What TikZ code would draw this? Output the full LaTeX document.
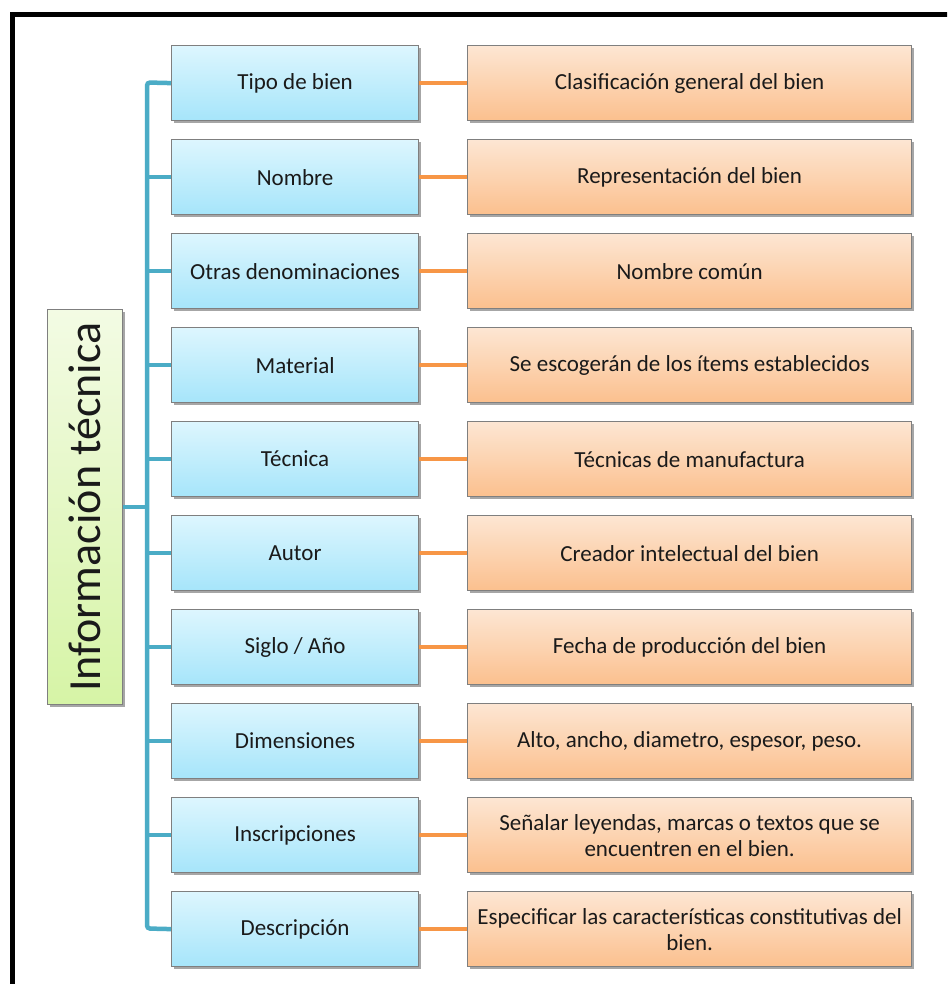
\documentclass[tikz,border=0pt]{standalone}
\usepackage{fontspec}
\setmainfont{Carlito}
\usetikzlibrary{shadows}
\definecolor{bluetop}{HTML}{DDF6FE}
\definecolor{bluebot}{HTML}{A6E5FA}
\definecolor{orgtop}{HTML}{FDE6D3}
\definecolor{orgbot}{HTML}{FBC08E}
\definecolor{grntop}{HTML}{F3FBE4}
\definecolor{grnbot}{HTML}{D6F4A6}
\definecolor{boxline}{HTML}{7F7F7F}
\definecolor{teal}{HTML}{4BACC6}
\definecolor{orangeline}{HTML}{F79646}
\definecolor{txt}{HTML}{1A1A1A}
\tikzset{
  basebox/.style={draw=boxline, line width=1.2pt, anchor=north west, inner sep=2pt,
    align=center, text=txt, font=\fontsize{23}{26}\selectfont,
    drop shadow={shadow xshift=2pt, shadow yshift=-2.5pt, opacity=0.35, fill=black}},
  bluebox/.style={basebox, top color=bluetop, bottom color=bluebot,
    minimum width=247pt, minimum height=75pt},
  orgbox/.style={basebox, top color=orgtop, bottom color=orgbot,
    minimum width=444pt, minimum height=75pt},
  grnbox/.style={basebox, top color=grntop, bottom color=grnbot,
    minimum width=75pt, minimum height=395pt},
  tealline/.style={draw=teal, line width=4.5pt},
  orgline/.style={draw=orangeline, line width=4pt},
}
\begin{document}
\begin{tikzpicture}[x=1pt, y=-1pt]
\useasboundingbox (0,0) rectangle (947,984);
\clip (0,0) rectangle (947,984);
\fill[white] (0,0) rectangle (947,984);
\draw[line width=5pt] (12,14.5) rectangle (980,1010);

% green root
\node[grnbox] (root) at (47,309) {};
\node[rotate=90, font=\fontsize{46}{50}\selectfont, text=txt] (roottext) at (root.center) {Información técnica};

% rows
\foreach \i/\a/\b in {
  0/{Tipo de bien}/{Clasificación general del bien},
  1/{Nombre}/{Representación del bien},
  2/{Otras denominaciones}/{Nombre común},
  3/{Material}/{Se escogerán de los ítems establecidos},
  4/{Técnica}/{Técnicas de manufactura},
  5/{Autor}/{Creador intelectual del bien},
  6/{Siglo / Año}/{Fecha de producción del bien},
  7/{Dimensiones}/{Alto, ancho, diametro, espesor, peso.},
  8/{Inscripciones}/{Señalar leyendas, marcas o textos que se\\ encuentren en el bien.},
  9/{Descripción}/{Especificar las características constitutivas del\\ bien.}}
{
  \node[bluebox] (b\i) at (171,45+94*\i) {\a};
  \node[orgbox] (o\i) at (467,45+94*\i) {\b};
}

% connectors
\coordinate (trunktop) at (147,82.5);
\coordinate (trunkbot) at (147,928.5);
\coordinate (trunkmid) at (147,507);
\begin{scope}[on background layer/.try]
\end{scope}
\draw[tealline, rounded corners=3pt] (b0.west) -- (trunktop) -- (trunkbot) -- (b9.west);
\foreach \i in {1,...,8} {
  \draw[tealline] (trunktop |- b\i.west) -- (b\i.west);
}
\draw[tealline] (root.east |- trunkmid) -- (trunkmid);
\foreach \i in {0,...,9} {
  \draw[orgline] (b\i.east) -- (o\i.west);
}
\end{tikzpicture}
\end{document}
